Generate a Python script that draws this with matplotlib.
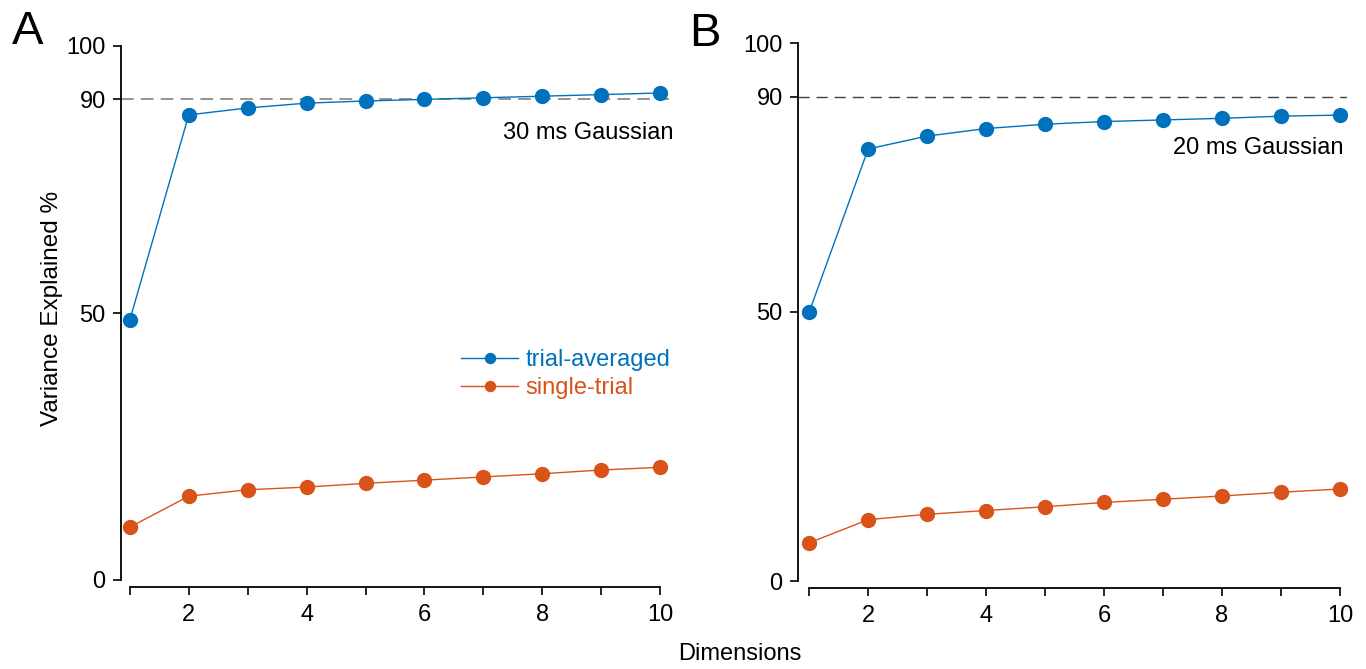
import numpy as np
import matplotlib.pyplot as plt

plt.rcParams['font.family'] = ['Liberation Sans', 'DejaVu Sans']

dims = np.arange(1, 11)

# panel A, 30 ms Gaussian
avg_30 = [48.7, 87.1, 88.4, 89.3, 89.7, 90.0, 90.3, 90.6, 90.9, 91.2]
single_30 = [9.9, 15.7, 16.9, 17.4, 18.1, 18.7, 19.3, 19.9, 20.6, 21.1]

# panel B, 20 ms Gaussian
avg_20 = [50.0, 80.3, 82.7, 84.1, 84.9, 85.4, 85.7, 86.0, 86.4, 86.6]
single_20 = [7.1, 11.4, 12.4, 13.1, 13.8, 14.6, 15.2, 15.8, 16.5, 17.1]

xtick_labels = ['' if d % 2 else str(d) for d in dims]
yticks = [0, 50, 90, 100]

blue = '#0072BD'
orange = '#D95319'

fig = plt.figure(figsize=(13.66, 6.69), dpi=100)
W, H = 1366, 669

def make_ax(left, right, top, bottom, xlim):
    ax = fig.add_axes([left / W, 1 - bottom / H, (right - left) / W, (bottom - top) / H])
    ax.set_xlim(*xlim)
    ax.set_ylim(0, 100)
    for s in ['top', 'right']:
        ax.spines[s].set_visible(False)
    ax.spines['bottom'].set_position(('outward', 5))
    ax.spines['bottom'].set_bounds(1, 10)
    ax.spines['left'].set_bounds(0, 100)
    for s in ['left', 'bottom']:
        ax.spines[s].set_linewidth(1.3)
    ax.set_xticks(dims)
    ax.set_xticklabels(xtick_labels)
    ax.set_yticks(yticks)
    ax.tick_params(direction='out', width=1.2, labelsize=17)
    ax.tick_params(axis='y', length=6, pad=5)
    ax.tick_params(axis='x', length=6, pad=6)
    return ax

axA = make_ax(121, 669, 46, 580, (0.85, 10.15))
axB = make_ax(798, 1347, 43, 581, (0.81, 10.12))

axA.axhline(90, color='#8a8a8a', lw=1.3, ls=(0, (7, 4)), zorder=1)
axB.axhline(90, color='#404040', lw=1.0, ls=(0, (8, 5)), zorder=1)

for ax, avg, single in [(axA, avg_30, single_30), (axB, avg_20, single_20)]:
    ax.plot(dims, avg, '-o', color=blue, lw=1.0, ms=10, label='trial-averaged', zorder=3)
    ax.plot(dims, single, '-o', color=orange, lw=1.0, ms=10, label='single-trial', zorder=3)

axA.text(10.22, 83.7, '30 ms Gaussian', ha='right', va='center', fontsize=17, clip_on=False)
axB.text(10.06, 80.5, '20 ms Gaussian', ha='right', va='center', fontsize=17, clip_on=False)

leg = axA.legend(loc='center left', bbox_to_anchor=(452 / W, 1 - 374 / H),
                 bbox_transform=fig.transFigure, frameon=False, fontsize=17,
                 handlelength=2.4, handletextpad=0.3, labelspacing=0.25,
                 borderaxespad=0, labelcolor='linecolor', markerscale=0.72)

fig.text(28 / W, 1 - 32 / H, 'A', fontsize=34, ha='center', va='center')
fig.text(705 / W, 1 - 34 / H, 'B', fontsize=34, ha='center', va='center')
fig.text(52 / W, 1 - 308 / H, 'Variance Explained %', rotation=90, fontsize=17.5,
         ha='center', va='center')
fig.text(740 / W, 1 - 654 / H, 'Dimensions', fontsize=17, ha='center', va='center')

fig.savefig('out.png', dpi=100)
